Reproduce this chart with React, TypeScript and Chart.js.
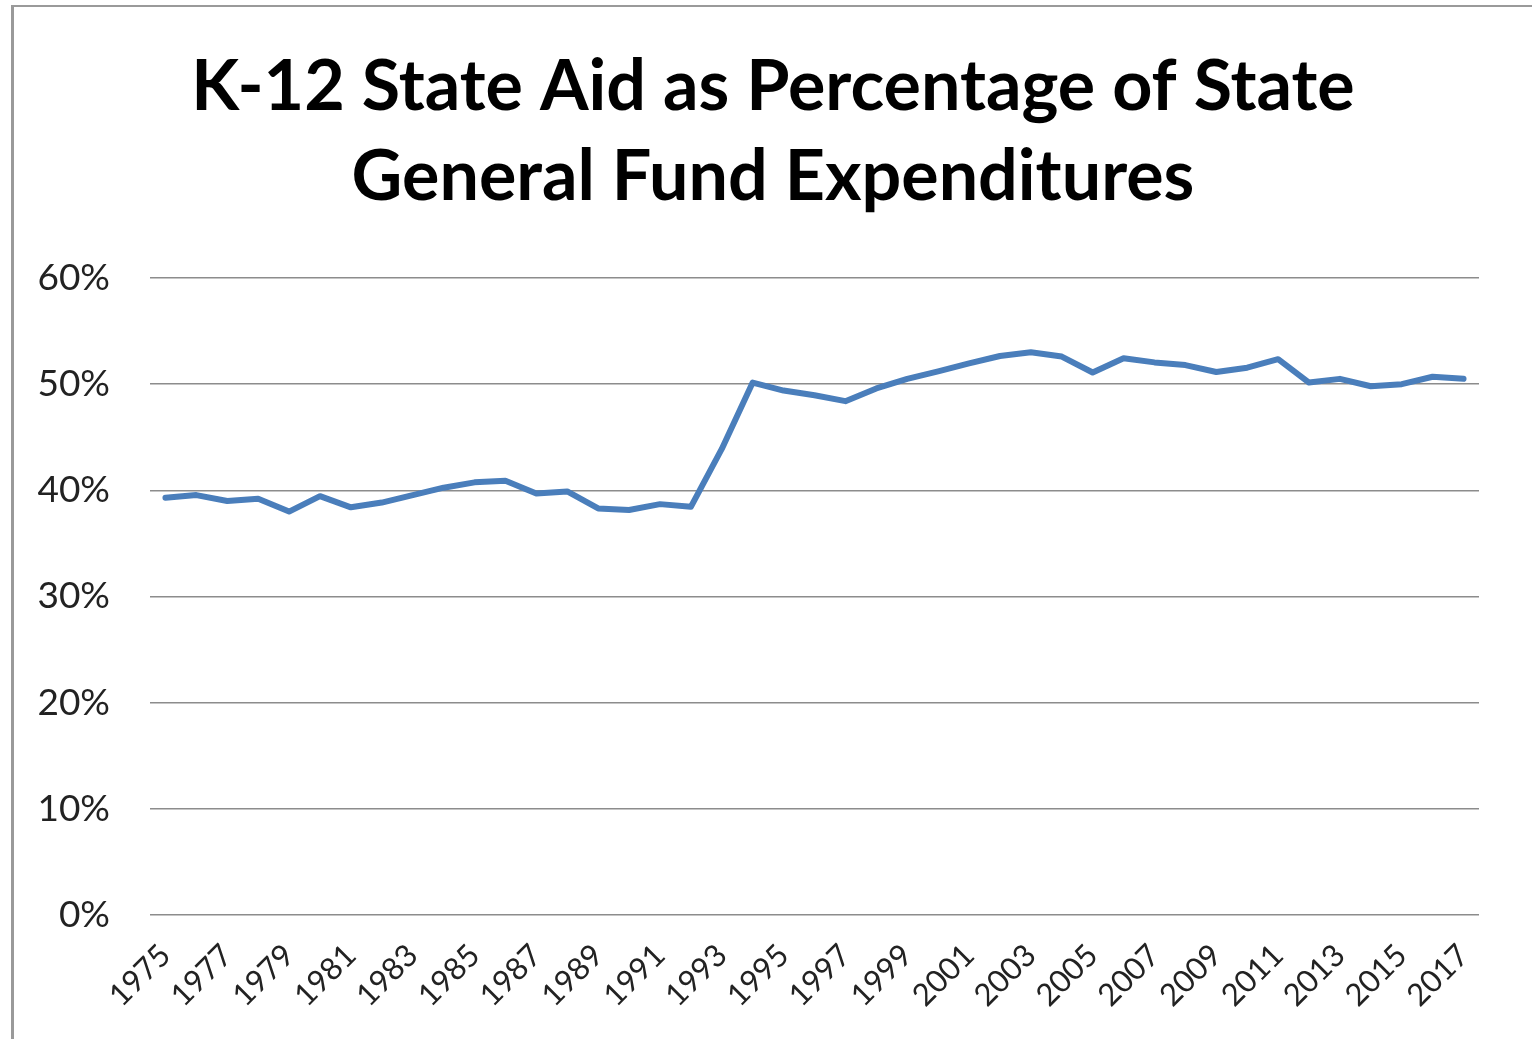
import React, { useEffect, useRef } from "react";
import { Chart, registerables } from "chart.js";

Chart.register(...registerables);

const years: string[] = [
  "1975", "1976", "1977", "1978", "1979", "1980", "1981", "1982", "1983", "1984",
  "1985", "1986", "1987", "1988", "1989", "1990", "1991", "1992", "1993", "1994",
  "1995", "1996", "1997", "1998", "1999", "2000", "2001", "2002", "2003", "2004",
  "2005", "2006", "2007", "2008", "2009", "2010", "2011", "2012", "2013", "2014",
  "2015", "2016", "2017",
];

const stateAidPct: number[] = [
  39.3, 39.55, 39.0, 39.2, 38.0, 39.45, 38.4, 38.85, 39.55, 40.25,
  40.75, 40.9, 39.7, 39.9, 38.3, 38.15, 38.7, 38.45, 43.9, 50.15,
  49.4, 48.95, 48.4, 49.6, 50.5, 51.2, 51.95, 52.65, 53.0, 52.6,
  51.1, 52.45, 52.05, 51.8, 51.15, 51.55, 52.35, 50.15, 50.5, 49.8,
  50.0, 50.7, 50.5,
];

const titleLines: string[] = [
  "K-12 State Aid as Percentage of State",
  "General Fund Expenditures",
];

const yMin = 0;
const yMax = 60;
const yStep = 10;

export default function App() {
  const canvasRef = useRef<HTMLCanvasElement | null>(null);

  useEffect(() => {
    if (!canvasRef.current) return;
    const chart = new Chart(canvasRef.current, {
      type: "line",
      data: {
        labels: years,
        datasets: [
          {
            label: "K-12 State Aid %",
            data: stateAidPct,
            borderColor: "#4A7EBB",
            backgroundColor: "#4A7EBB",
            borderWidth: 6,
            pointRadius: 0,
            tension: 0,
            borderJoinStyle: "round",
            borderCapStyle: "round",
          },
        ],
      },
      options: {
        responsive: false,
        animation: false,
        layout: { padding: { left: 14, right: 0, top: 0, bottom: 0 } },
        plugins: {
          legend: { display: false },
          tooltip: { enabled: false },
          title: {
            display: true,
            text: titleLines,
            color: "#000000",
            font: { family: "Lato", weight: "bold", size: 70, lineHeight: 90 / 70 },
            padding: { top: 42, bottom: 56 },
          },
        },
        scales: {
          x: {
            type: "category",
            offset: true,
            grid: { display: false },
            border: { display: false },
            ticks: {
              autoSkip: false,
              minRotation: 45,
              maxRotation: 45,
              padding: 14,
              color: "#222222",
              font: { family: "Lato", size: 31 },
              callback: function (_v: any, i: number) {
                return i % 2 === 0 ? years[i] : "";
              },
            },
            afterFit: (axis: any) => {
              axis.height = 124;
            },
          },
          y: {
            min: yMin,
            max: yMax,
            position: "left",
            border: { display: false },
            grid: { color: "#8c8c8c", lineWidth: 1.5, drawTicks: false },
            ticks: {
              stepSize: yStep,
              padding: 40,
              color: "#222222",
              font: { family: "Lato", size: 37 },
              callback: (v: any) => `${v}%`,
            },
            afterFit: (axis: any) => {
              axis.width = 136;
            },
          },
          y2: {
            position: "right",
            display: true,
            grid: { display: false },
            border: { display: false },
            ticks: { display: false },
            afterFit: (axis: any) => {
              axis.width = 53;
            },
          },
        },
      },
    });
    return () => chart.destroy();
  }, []);

  return (
    <div style={{ position: "fixed", left: 0, top: 0, width: 1532, height: 1039, background: "#fff", overflow: "hidden" }}>
      <div
        style={{
          position: "absolute",
          left: 11,
          top: 5,
          width: 1600,
          height: 1100,
          borderLeft: "3px solid #9a9a9a",
          borderTop: "2px solid #9a9a9a",
        }}
      />
      <canvas ref={canvasRef} width={1532} height={1039} style={{ position: "absolute", left: 0, top: 0 }} />
    </div>
  );
}
